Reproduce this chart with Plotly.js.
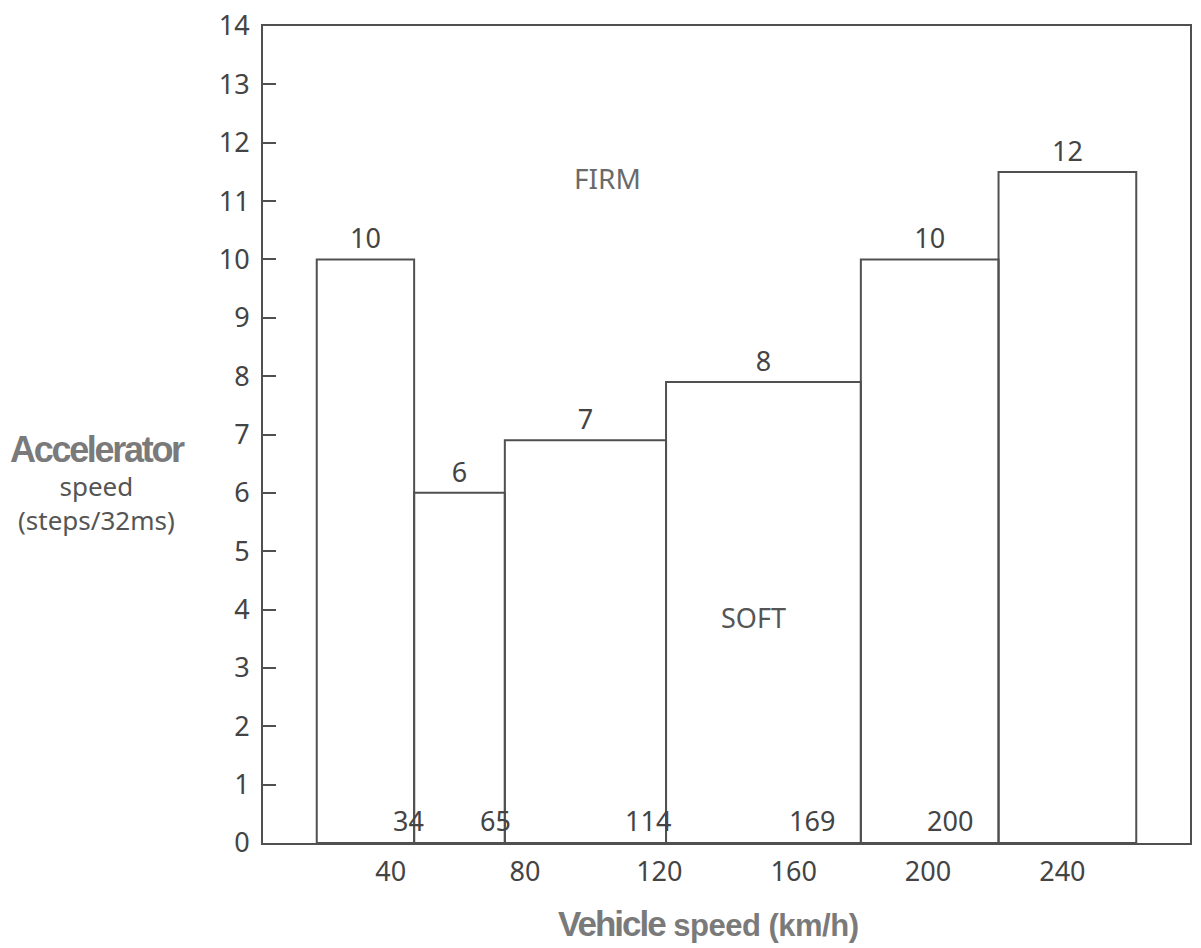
<!DOCTYPE html>
<html>
<head>
<meta charset="utf-8">
<script src="https://cdn.plot.ly/plotly-3.0.1.min.js"></script>
<style>html,body{margin:0;padding:0;background:#fff;}#chart{width:1201px;height:948px;}</style>
</head>
<body>
<div id="chart"></div>
<script>
// Bar edges as drawn on the vehicle-speed axis (schematic), values and labels
const barEdges = [18, 47, 74, 122, 180, 221, 262];
const accelSpeed = [10, 6, 6.9, 7.9, 10, 11.5];
const barLabels = ['10', '6', '7', '8', '10', '12'];
const boundaryLabels = ['34', '65', '114', '169', '200'];
const xTickVals = [40, 80, 120, 160, 200, 240];
const yTickVals = [0, 1, 2, 3, 4, 5, 6, 7, 8, 9, 10, 11, 12, 13, 14];
const regionLabels = ['FIRM', 'SOFT'];

const centers = accelSpeed.map((_, i) => (barEdges[i] + barEdges[i + 1]) / 2);
const widths = accelSpeed.map((_, i) => barEdges[i + 1] - barEdges[i]);

const lineCol = '#505050';
const tickFont = {family: 'Noto Sans, Open Sans, sans-serif', size: 27, color: '#444'};

const trace = {
  type: 'bar',
  x: centers,
  y: accelSpeed,
  width: widths,
  text: barLabels,
  textposition: 'outside',
  constraintext: 'none',
  cliponaxis: false,
  textfont: tickFont,
  marker: {color: 'rgba(255,255,255,0)', line: {color: lineCol, width: 2}},
  hoverinfo: 'x+y'
};

// boundary label offsets (pixels, styling)
const bShift = [12, 8, 7, -24, -24];
const annotations = [];
boundaryLabels.forEach((t, i) => {
  annotations.push({
    x: barEdges[i + 1], y: 0, xref: 'x', yref: 'y',
    text: t, showarrow: false, xanchor: 'right', yanchor: 'bottom',
    xshift: bShift[i], yshift: 2, font: tickFont
  });
});
annotations.push({x: 104.5, y: 11.4, xref: 'x', yref: 'y', text: regionLabels[0], showarrow: false,
  xanchor: 'center', yanchor: 'middle',
  font: {family: 'Noto Sans, sans-serif', size: 28, color: '#6a6a6a'}});
annotations.push({x: 148, y: 3.87, xref: 'x', yref: 'y', text: regionLabels[1], showarrow: false,
  xanchor: 'center', yanchor: 'middle',
  font: {family: 'Noto Sans, sans-serif', size: 27, color: '#555'}});
// y-axis title (three lines, one block)
annotations.push({x: -0.179, y: 0.44, xref: 'paper', yref: 'paper', xanchor: 'center', yanchor: 'middle',
  align: 'center', showarrow: false,
  text: "<b><span style='font-family:Liberation Sans, Arial, sans-serif;font-size:36px;fill:#7a7a7a;letter-spacing:-2.3px'>Accelerator</span></b><br>speed<br>(steps/32ms)",
  font: {family: 'Noto Sans, sans-serif', size: 26, color: '#555'}});
// x-axis title
annotations.push({x: 0.48, y: -0.099, xref: 'paper', yref: 'paper', xanchor: 'center', yanchor: 'middle', showarrow: false,
  text: "<b><span style='font-size:35px;letter-spacing:-2px'>Vehicle</span> <span style='letter-spacing:-0.5px'>speed (km/h)</span></b>",
  font: {family: 'Liberation Sans, Arial, sans-serif', size: 31, color: '#7a7a7a'}});

const layout = {
  width: 1201, height: 948,
  margin: {l: 263, r: 11, t: 26, b: 105},
  paper_bgcolor: '#fff', plot_bgcolor: '#fff',
  showlegend: false,
  bargap: 0,
  xaxis: {
    range: [2, 278], tickvals: xTickVals, ticks: '', showgrid: false, zeroline: false,
    showline: true, linecolor: lineCol, linewidth: 2, mirror: true,
    tickfont: tickFont, ticklabelstandoff: 4, fixedrange: true
  },
  yaxis: {
    range: [0, 14], tickvals: yTickVals, ticks: 'inside', ticklen: 13, tickwidth: 2, tickcolor: lineCol,
    showgrid: false, zeroline: false, showline: true, linecolor: lineCol, linewidth: 2, mirror: true,
    tickfont: tickFont, ticklabelstandoff: 6, fixedrange: true
  },
  annotations: annotations
};

Plotly.newPlot('chart', [trace], layout, {displayModeBar: false, staticPlot: true});
</script>
</body>
</html>
